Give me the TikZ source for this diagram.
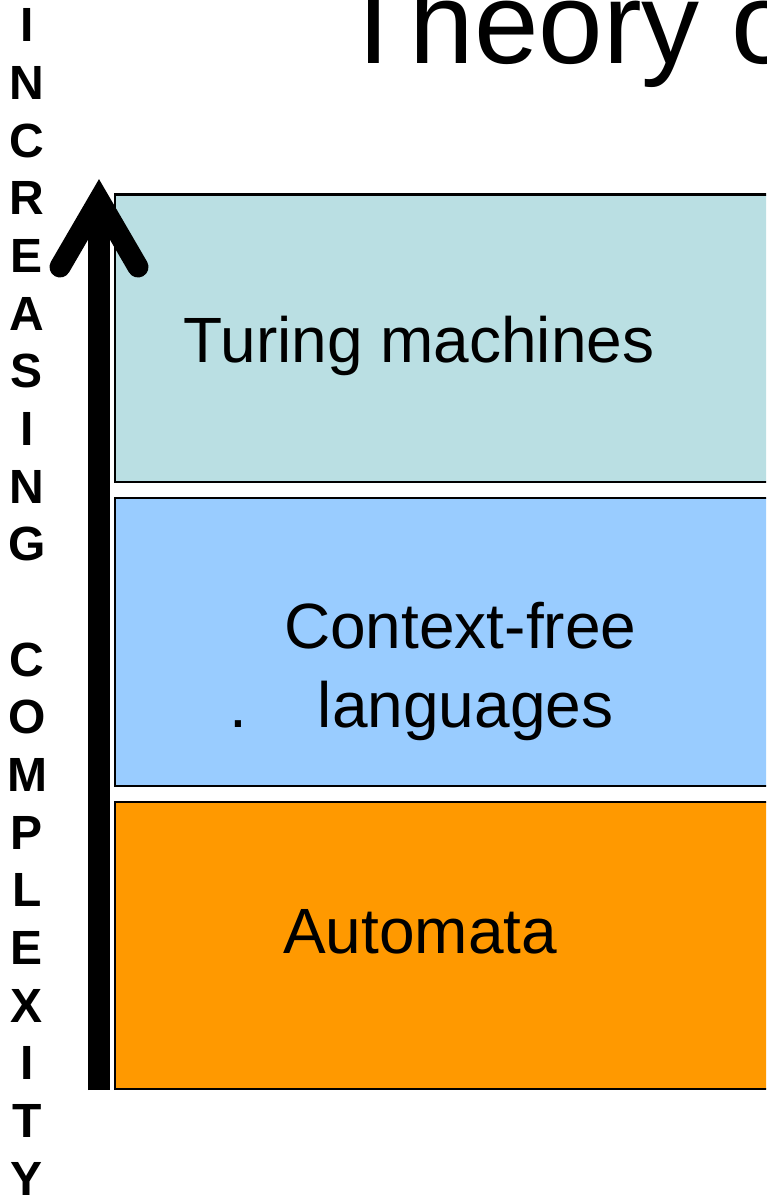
\documentclass[tikz,border=0pt]{standalone}
\usepackage{fontspec}
\setmainfont{Liberation Sans}
\definecolor{turingfill}{RGB}{186,223,227}
\definecolor{cfgfill}{RGB}{153,204,255}
\definecolor{autofill}{RGB}{255,153,0}
\begin{document}
\begin{tikzpicture}[x=1pt,y=-1pt,
  levelbox/.style={draw=black,line width=2.2pt},
  boxtext/.style={inner sep=0pt,anchor=base west,font=\fontsize{64}{77}\selectfont},
  vletter/.style={inner sep=0pt,anchor=base,font=\fontsize{48}{58}\selectfont\bfseries},
  shaft/.style={line width=22pt,line cap=butt},
  headline/.style={line width=21pt,line cap=round,line join=miter}]
\useasboundingbox (0,0) rectangle (766,1196);
\clip (0,0) rectangle (766,1196);
\fill[white] (0,0) rectangle (766,1196);
% title
\node[inner sep=0pt,anchor=base west,font=\fontsize{116}{139}\selectfont] (title) at (338.5,64) {Theory of Computation};
% level boxes
\draw[levelbox,fill=turingfill] (115,194.5) rectangle (820,482) coordinate (b1);
\draw[levelbox,fill=cfgfill] (115,498) rectangle (820,786) coordinate (b2);
\draw[levelbox,fill=autofill] (115,802) rectangle (820,1089) coordinate (b3);
\node[boxtext] (turing) at (183.5,362) {Turing machines};
\node[boxtext] (cf) at (284,648) {Context-free};
\node[boxtext] (lang) at (229.5,727) {.\hspace{70.5pt}languages};
\node[boxtext] (auto) at (283,953) {Automata};
% arrow
\coordinate (abot) at (99,1090);
\coordinate (atop) at (99,200);
\coordinate (hl) at (60,267);
\coordinate (hr) at (138,267);
\draw[shaft] (abot) -- (atop);
\draw[headline] (hl) -- (atop) -- (hr);
% vertical label
\foreach \ch [count=\i from 0] in {I,N,C,R,E,A,S,I,N,G,{},C,O,M,P,L,E,X,I,T,Y}{
  \node[vletter] (let\i) at (27,42+\i*57.65) {\ch};
}
\end{tikzpicture}
\end{document}
